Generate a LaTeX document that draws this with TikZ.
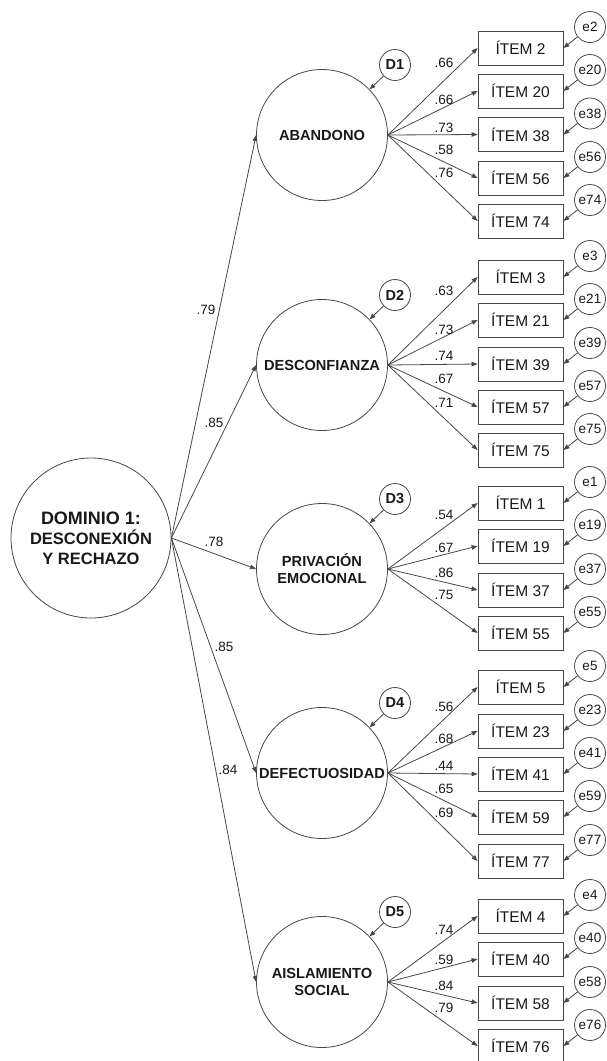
\documentclass[tikz,border=0pt]{standalone}
\usepackage{fontspec}
\setmainfont{Liberation Sans}
\usetikzlibrary{arrows.meta,calc}
\begin{document}
\begin{tikzpicture}[x=1pt,y=-1pt,
  line/.style={draw=black!72, line width=0.8pt},
  arr/.style={line, -{Triangle[length=6pt,width=4.5pt]}},
  latent/.style={circle, line, inner sep=0pt, minimum size=131pt, align=center,
    text=black!90, font=\fontsize{14.6}{17}\selectfont\bfseries},
  domnode/.style={circle, line, inner sep=0pt, minimum size=160pt, align=center,
    text=black!90, font=\fontsize{16.5}{20}\selectfont\bfseries},
  itembox/.style={rectangle, line, minimum width=85pt, minimum height=34pt,
    inner sep=0pt, text=black!90, font=\fontsize{15.5}{16}\selectfont},
  err/.style={circle, line, minimum size=31pt, inner sep=0pt,
    text=black!90, font=\fontsize{13.5}{14}\selectfont},
  dist/.style={circle, line, minimum size=31pt, inner sep=0pt,
    text=black!90, font=\fontsize{14.5}{15}\selectfont\bfseries},
  coef/.style={inner sep=0pt, text=black!90, font=\fontsize{13.5}{14}\selectfont}
]
\useasboundingbox (0,0) rectangle (607,1061);

% second-order factor
\node[domnode] (dom) at (91,538)
  {{\fontsize{18}{20}\selectfont DOMINIO 1:}\\
   DESCONEXIÓN\\
   Y RECHAZO};

% first-order factors
\node[latent] (f1) at (322,135) {ABANDONO};
\node[latent] (f2) at (322,365) {DESCONFIANZA};
\node[latent] (f3) at (322,569) {PRIVACIÓN\\EMOCIONAL};
\node[latent] (f4) at (322,773) {DEFECTUOSIDAD};
\node[latent] (f5) at (322,982) {AISLAMIENTO\\SOCIAL};

% disturbances
\foreach \k in {1,...,5} {
  \node[dist] (d\k) at ($(f\k)+(73,-70)$) {D\k};
  \draw[arr] (d\k) -- (f\k);
}

% observed items with their error terms
\foreach \n/\y in {2/48, 20/91, 38/134.5, 56/178, 74/221,
                   3/277, 21/320, 39/364, 57/407, 75/450,
                   1/503, 19/546, 37/590, 55/633,
                   5/687, 23/731, 41/774, 59/817, 77/861,
                   4/916, 40/959, 58/1003, 76/1046} {
  \node[itembox] (i\n) at (520.5,\y) {ÍTEM \n};
  \node[err] (e\n) at (590,\y-21) {e\n};
  \draw[arr] (e\n) -- (i\n.east);
}

% loadings of the first-order factors
\foreach \f/\n/\v/\ly in {
    f1/2/.66/63, f1/20/.66/100, f1/38/.73/128, f1/56/.58/150, f1/74/.76/173,
    f2/3/.63/291, f2/21/.73/330, f2/39/.74/356, f2/57/.67/379, f2/75/.71/403,
    f3/1/.54/515, f3/19/.67/548, f3/37/.86/573, f3/55/.75/595,
    f4/5/.56/707, f4/23/.68/739, f4/41/.44/766, f4/59/.65/789, f4/77/.69/813,
    f5/4/.74/930, f5/40/.59/960, f5/58/.84/986, f5/76/.79/1008} {
  \draw[arr] (\f.east) -- (i\n.west);
  \node[coef] at (444,\ly) {\v};
}

% loadings of the second-order factor
\foreach \f/\v/\lx/\ly in {f1/.79/206/310, f2/.85/214/423, f3/.78/214/542,
                           f4/.85/224/647, f5/.84/228/770} {
  \draw[arr] (dom.east) -- (\f.west);
  \node[coef] at (\lx,\ly) {\v};
}
\end{tikzpicture}
\end{document}
